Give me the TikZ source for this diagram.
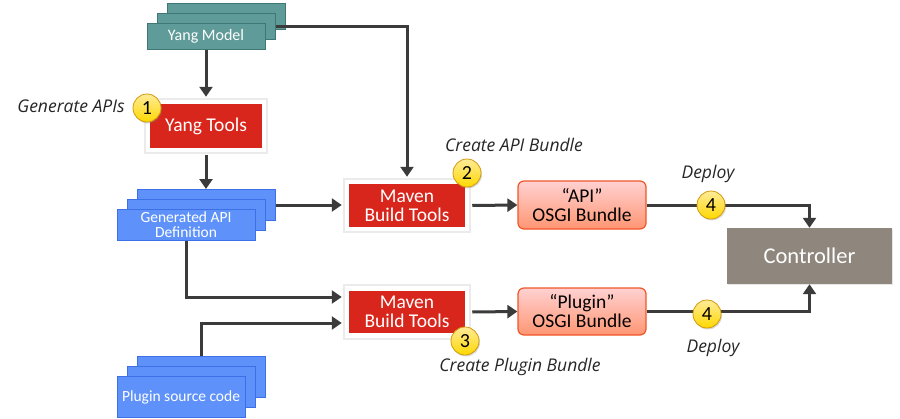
\documentclass[tikz,border=0pt]{standalone}
\usepackage{fontspec}
\setmainfont{Carlito}
\newfontfamily\notefont{Open Sans}
\usetikzlibrary{arrows.meta,shadows,positioning}

\definecolor{modelfill}{HTML}{5F9B98}
\definecolor{modeledge}{HTML}{3E7773}
\definecolor{apifill}{HTML}{5E92FA}
\definecolor{apiedge}{HTML}{3D6FE6}
\definecolor{toolred}{HTML}{D9261C}
\definecolor{bundleedge}{HTML}{F0562A}
\definecolor{ctlfill}{HTML}{8F877E}
\definecolor{badgeedge}{HTML}{D29A0C}
\definecolor{wire}{HTML}{3B3B3B}

\begin{document}
\begin{tikzpicture}[x=1pt,y=-1pt,
    model/.style={draw=modeledge, fill=modelfill, text=white, line width=1pt,
        minimum width=118pt, minimum height=26pt, inner sep=0pt,
        font=\fontsize{16}{17}\selectfont},
    source/.style={draw=apiedge, fill=apifill, text=white, line width=1pt,
        minimum width=#1, inner sep=0pt, align=center,
        font=\fontsize{15.5}{15}\selectfont},
    tool/.style={draw=white, fill=toolred, text=white, line width=4.5pt,
        minimum width=120pt, minimum height=47pt, inner sep=0pt, align=center,
        font=\fontsize{19.5}{19}\selectfont,
        preaction={draw=black!18, line width=6.5pt},
        preaction={draw=black!8, line width=8.5pt}},
    bundle/.style={draw=bundleedge, top color=red!18, bottom color=red!50!orange!55,
        line width=1.2pt, rounded corners=6pt, minimum width=128pt,
        minimum height=47pt, inner sep=0pt, align=center,
        font=\fontsize{19.5}{19}\selectfont},
    badge/.style={circle, draw=badgeedge, top color=yellow!60!orange!40, bottom color=yellow!70!orange,
        line width=0.8pt, minimum size=28pt, inner sep=0pt,
        font=\fontsize{20}{20}\selectfont,
        drop shadow={opacity=0.3, shadow xshift=1pt, shadow yshift=-1.5pt}},
    note/.style={font=\notefont\fontsize{17.5}{19}\selectfont\itshape, text=black!85},
    flow/.style={draw=wire, line width=3pt, -{Triangle[length=10pt, width=13pt]}},
    ]
    \useasboundingbox (0,0) rectangle (900,418);

    % yang model stack
    \node[model] (ym3) at (226,16) {};
    \node[model] (ym2) at (216,26) {};
    \node[model] (ym)  at (206,36) {Yang Model};

    \node[tool, minimum width=116pt, minimum height=48pt] (yt) at (206,126) {Yang Tools};

    % generated api stack
    \node[source=138pt, minimum height=31pt] (ga3) at (206,205) {};
    \node[source=138pt, minimum height=31pt] (ga2) at (196,215) {};
    \node[source=138pt, minimum height=31pt] (ga)  at (186,225) {Generated API\\Definition};

    % plugin source stack
    \node[source=128pt, minimum height=41pt] (ps3) at (201,377) {};
    \node[source=128pt, minimum height=41pt] (ps2) at (191,387) {};
    \node[source=128pt, minimum height=41pt] (ps)  at (181,397) {Plugin source code};

    \node[tool] (mv1) at (407,205.5) {Maven\\Build Tools};
    \node[tool] (mv2) at (407,312) {Maven\\Build Tools};

    \node[bundle, minimum height=48pt] (api) at (582,205) {“API”\\OSGI Bundle};
    \node[bundle] (plg) at (582,311.5) {“Plugin”\\OSGI Bundle};

    \node[fill=ctlfill, text=white, minimum width=165pt, minimum height=56pt,
        font=\fontsize{22.5}{24}\selectfont,
        drop shadow={opacity=0.2, shadow xshift=1pt, shadow yshift=-1pt}] (ctl) at (809.5,256) {Controller};

    % connectors
    \draw[flow] (ym.south) -- ([yshift=3pt]yt.north);
    \draw[flow] (ym2.east) -| ([yshift=3pt]mv1.north);
    \draw[flow] ([yshift=-3pt]yt.south) -- (ga3.north);
    \draw[flow] (ga3.east) -- ([xshift=-3pt]ga3.east -| mv1.west);
    \draw[flow] (ga.south) |- ([xshift=-3pt,yshift=15pt]mv2.west);
    \draw[flow] (ps3.north) |- ([xshift=-3pt,yshift=-11pt]mv2.west);
    \draw[flow] ([xshift=3pt]mv1.east) -- (api.west);
    \draw[flow] ([xshift=3pt]mv2.east) -- (plg.west);
    \draw[flow] (api.east) -| (ctl.north);
    \draw[flow] (plg.east) -| (ctl.south);

    % badges and notes
    \node[badge] (b1) at (147,108) {1};
    \node[badge] (b2) at (467,173) {2};
    \node[badge] (b3) at (465,341) {3};
    \node[badge] (b4a) at (711,205) {4};
    \node[badge] (b4b) at (707,314) {4};

    \node[note] (n1) at (71,106) {Generate APIs};
    \node[note] (n2) at (514,145) {Create API Bundle};
    \node[note] (n3) at (520,367) {Create Plugin Bundle};
    \node[note] (n4a) at (708,174) {Deploy};
    \node[note] (n4b) at (713,348) {Deploy};
\end{tikzpicture}
\end{document}
